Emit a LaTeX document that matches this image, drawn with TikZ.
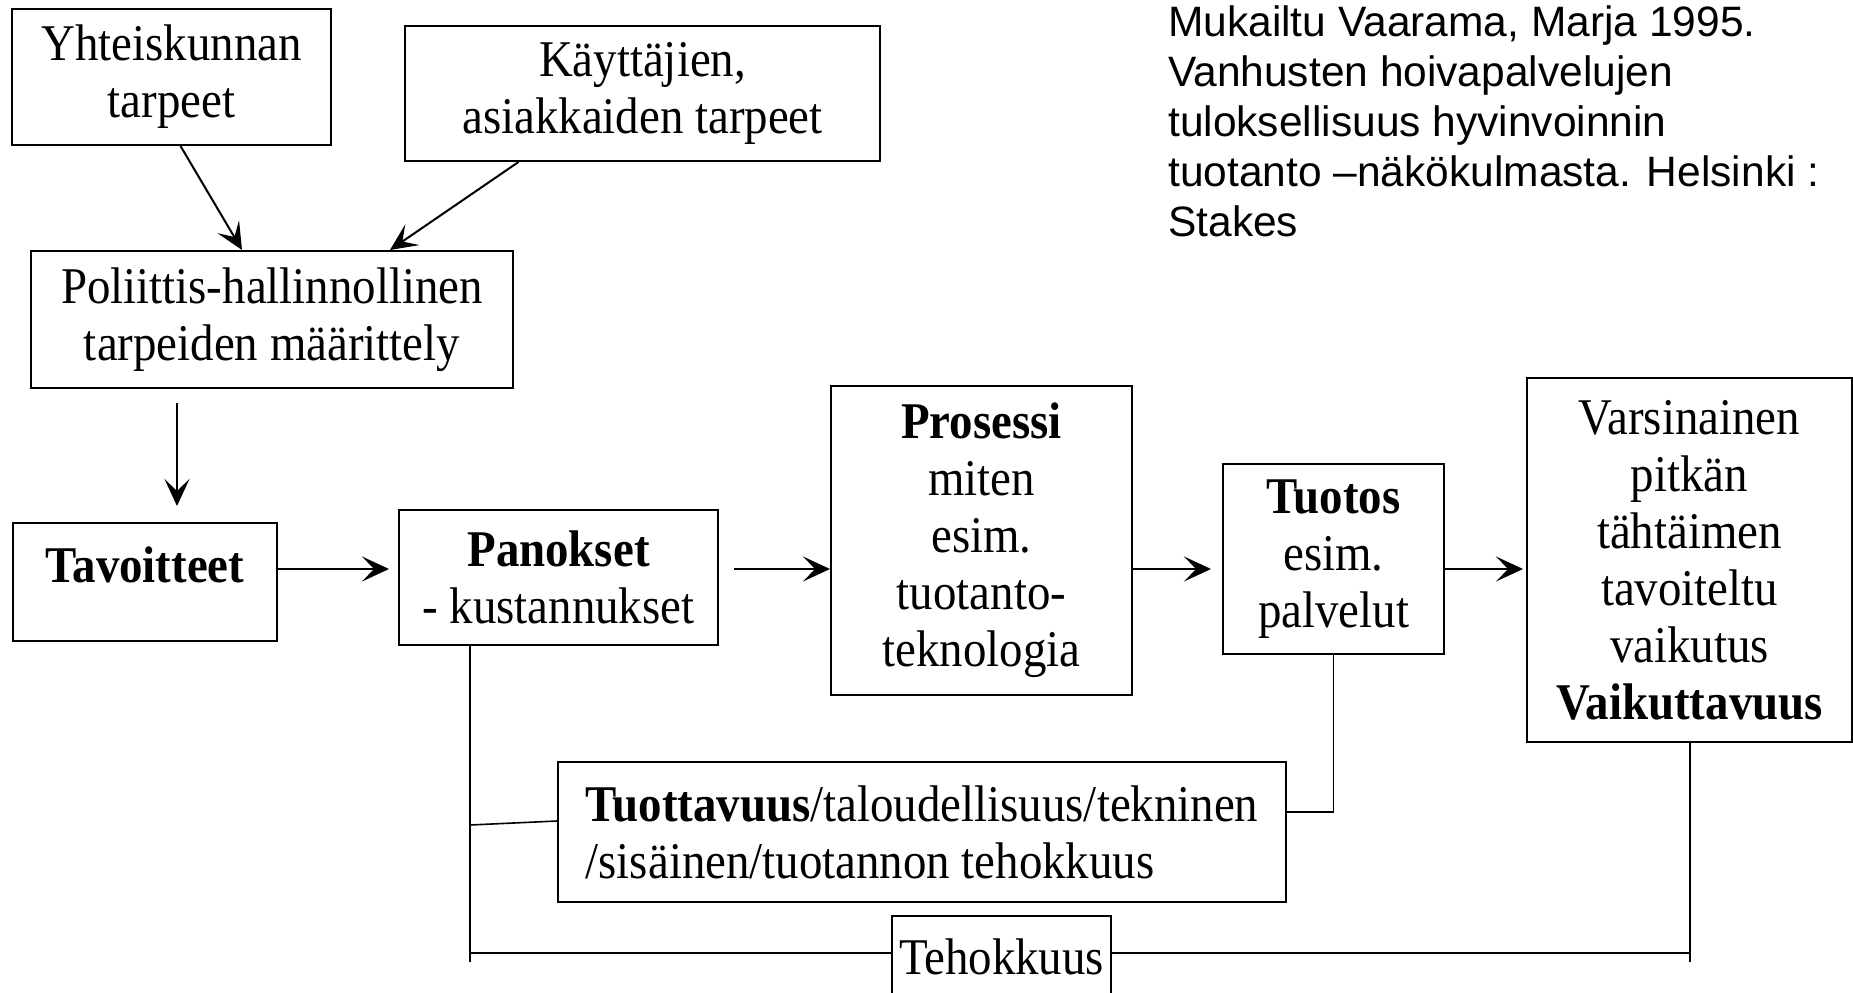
\documentclass[tikz,border=0pt]{standalone}
\usepackage{fontspec}
\setmainfont{Liberation Serif}[FakeStretch=0.91]
\newfontfamily\citefont{Liberation Sans}
\usetikzlibrary{arrows.meta}

\begin{document}
\begin{tikzpicture}[x=1pt,y=-1pt,
    box/.style={draw, line width=2pt, rectangle, inner sep=0pt, align=center, font=\fontsize{51.5}{57}\selectfont},
    arr/.style={-{Stealth[length=27pt,width=25pt,inset=12pt]}, line width=2pt},
    link/.style={line width=1.6pt}]
    \clip (0,0) rectangle (1853,993);

    % Needs and their definition
    \node[box, minimum width=319pt, minimum height=136pt] (yht) at (171.5,77) {Yhteiskunnan\\tarpeet};
    \node[box, minimum width=475pt, minimum height=135pt] (kay) at (642.5,93.5) {Käyttäjien,\\asiakkaiden tarpeet};
    \node[box, minimum width=482pt, minimum height=137pt] (pol) at (272,319.5) {Poliittis-hallinnollinen\\tarpeiden määrittely};

    \draw[arr] ([xshift=9pt]yht.south) -- ([xshift=-30pt]pol.north);
    \draw[arr] ([xshift=-124pt]kay.south) -- ([xshift=118pt]pol.north);

    % Source
    \node[anchor=north west, align=left, inner sep=0pt, font=\citefont\fontsize{42.5}{50}\selectfont] (cite) at (1168,6) {
        Mukailtu Vaarama, Marja 1995.\\
        Vanhusten hoivapalvelujen\\
        tuloksellisuus hyvinvoinnin\\
        tuotanto –näkökulmasta. Helsinki :\\
        Stakes
    };

    % Production chain
    \coordinate (row) at (0,569);
    \node[box, anchor=base, minimum width=264pt, text height=59pt, text depth=59pt] (tav) at (145,582) {\textbf{Tavoitteet}};
    \node[box, minimum width=319pt, minimum height=135pt] (pan) at (558.5,577.5) {\textbf{Panokset}\\- kustannukset};
    \node[box, minimum width=301pt, minimum height=309pt] (pro) at (981.5,540.5) {\textbf{Prosessi}\\miten\\esim.\\tuotanto-\\teknologia};
    \node[box, minimum width=221pt, minimum height=190pt] (tuot) at (1333.5,559) {\textbf{Tuotos}\\esim.\\palvelut};
    \node[box, minimum width=325pt, minimum height=364pt] (vai) at (1689.5,560) {Varsinainen\\pitkän\\tähtäimen\\tavoiteltu\\vaikutus\\\textbf{Vaikuttavuus}};

    \draw[arr] ([xshift=-95pt]pol.south) -- ([xshift=-95pt]pol.south |- tav.north) [shorten <=14pt, shorten >=16pt];
    \draw[arr, shorten >=9pt] (tav.east |- row) -- (pan.west |- row);
    \draw[arr, shorten <=15pt] (pan.east |- row) -- (pro.west |- row);
    \draw[arr, shorten >=11pt] (pro.east |- row) -- (tuot.west |- row);
    \draw[arr, shorten >=3pt] (tuot.east |- row) -- (vai.west |- row);

    % Efficiency measures
    \node[box, align=left, minimum width=728pt, minimum height=140pt] (tuo) at (922,832) {\textbf{Tuottavuus}/taloudellisuus/tekninen\\/sisäinen/tuotannon tehokkuus};
    \node[box, minimum width=219pt, minimum height=82pt] (teh) at (1001.5,957) {Tehokkuus};

    \coordinate (lb) at (470,962);
    \coordinate (rb) at (1690,962);
    \draw[link] (pan.south -| lb) -- (lb);
    \draw[link] (vai.south -| rb) -- (rb);
    \draw[link] (teh.west |- 0,953) -- (lb |- 0,953);
    \draw[link] (teh.east |- 0,953) -- (rb |- 0,953);
    \draw[link] (tuot.south) -- (tuot.south |- 0,812) -- (tuo.east |- 0,812);
    \draw[link] (tuo.west |- 0,821) -- (lb |- 0,825);
\end{tikzpicture}
\end{document}
